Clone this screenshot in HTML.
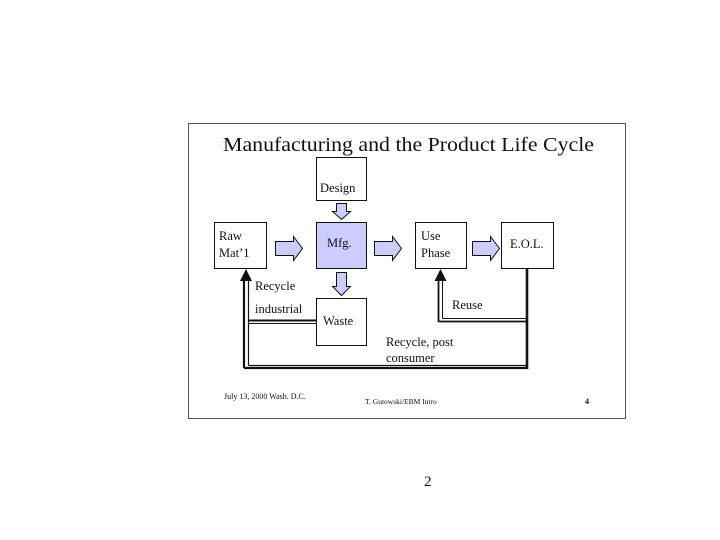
<!DOCTYPE html>
<html><head><style>
body{margin:0;width:720px;height:540px;background:#fff;overflow:hidden}
svg{position:absolute;left:0;top:0}
text{font-family:"Liberation Serif",serif;fill:#111}
</style></head><body>
<svg width="720" height="540" viewBox="0 0 720 540">
<rect x="188.5" y="123.5" width="437" height="295" fill="#fff" stroke="#555" stroke-width="1"/>
<text x="223" y="151" font-size="20" textLength="371" lengthAdjust="spacingAndGlyphs">Manufacturing and the Product Life Cycle</text>
<g stroke="#111" stroke-width="1" fill="#fff">
<rect x="316.5" y="157.5" width="50" height="43"/>
<rect x="214.5" y="222.5" width="52" height="46"/>
<rect x="316.5" y="222.5" width="50" height="46" fill="#ccccff"/>
<rect x="415.5" y="222.5" width="51" height="46"/>
<rect x="501.5" y="222.5" width="52" height="46"/>
<rect x="316.5" y="298.5" width="50" height="47"/>
</g>
<g fill="#ccccff" stroke="#111" stroke-width="1">
<polygon points="275.5,241.5 293.5,241.5 293.5,236.5 302.5,248.5 293.5,260.5 293.5,255.5 275.5,255.5"/>
<polygon points="374.5,241.5 392.5,241.5 392.5,236.5 401.5,248.5 392.5,260.5 392.5,255.5 374.5,255.5"/>
<polygon points="472.5,241.5 490.5,241.5 490.5,236.5 499.5,248.5 490.5,260.5 490.5,255.5 472.5,255.5"/>
<polygon points="336.5,203.5 346.5,203.5 346.5,211.5 350.5,211.5 341.5,219.5 332.5,211.5 336.5,211.5"/>
<polygon points="336.5,272.5 346.5,272.5 346.5,286.5 350.5,286.5 341.5,295.5 332.5,286.5 336.5,286.5"/>
</g>
<g stroke="#111" fill="none">
<line x1="244" y1="278" x2="244" y2="368" stroke-width="2.2"/>
<line x1="248.5" y1="278" x2="248.5" y2="365.5" stroke-width="1.2"/>
<line x1="244" y1="368" x2="528" y2="368" stroke-width="2.2"/>
<line x1="248.5" y1="365.5" x2="526" y2="365.5" stroke-width="1.2"/>
<line x1="527" y1="268" x2="527" y2="369" stroke-width="2.6"/>
<line x1="248.5" y1="320.5" x2="316" y2="320.5" stroke-width="2"/>
<line x1="248.5" y1="323.5" x2="316" y2="323.5" stroke-width="1"/>
<line x1="438.5" y1="278" x2="438.5" y2="322" stroke-width="1.8"/>
<line x1="442.5" y1="278" x2="442.5" y2="318.5" stroke-width="1"/>
<line x1="438.5" y1="321.5" x2="527" y2="321.5" stroke-width="1.8"/>
<line x1="442.5" y1="318.5" x2="527" y2="318.5" stroke-width="1"/>
</g>
<polygon points="246,269 252,281 240,281" fill="#111"/>
<polygon points="440.5,269 446.5,281 434.5,281" fill="#111"/>
<g font-size="12.5">
<text x="320" y="192">Design</text>
<text x="219" y="240">Raw</text>
<text x="219" y="257">Mat’1</text>
<text x="327" y="247">Mfg.</text>
<text x="421" y="240">Use</text>
<text x="421" y="257">Phase</text>
<text x="510" y="248">E.O.L.</text>
<text x="323" y="325">Waste</text>
<text x="255" y="290">Recycle</text>
<text x="255" y="313">industrial</text>
<text x="452" y="309">Reuse</text>
<text x="386" y="346">Recycle, post</text>
<text x="386" y="362">consumer</text>
</g>
<text x="224" y="399" font-size="8">July 13, 2000  Wash. D.C.</text>
<text x="365" y="404" font-size="7.5">T. Gutowski/EBM Intro</text>
<text x="585" y="404" font-size="8" font-weight="bold">4</text>
<text x="424" y="486" font-size="15">2</text>
</svg>
</body></html>
